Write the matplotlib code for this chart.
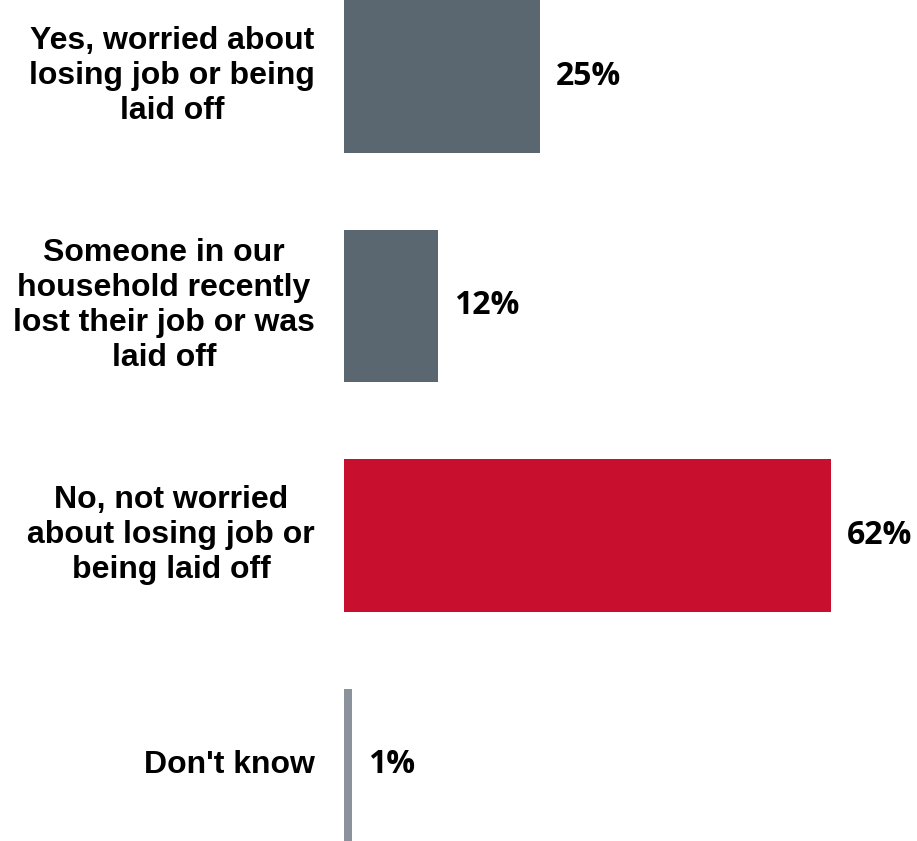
import matplotlib.pyplot as plt
from matplotlib.transforms import offset_copy

categories = [
    "Yes, worried about\nlosing job or being\nlaid off",
    "Someone in our\nhousehold recently\nlost their job or was\nlaid off",
    "No, not worried\nabout losing job or\nbeing laid off",
    "Don't know",
]
values = [25, 12, 62, 1]
colors = ["#5b6770", "#5b6770", "#c8102e", "#8b929b"]

fig = plt.figure(figsize=(9.17, 8.41), dpi=100)
ax = fig.add_axes([344 / 917, 0, 1 - 344 / 917, 1])

pos = list(range(len(values)))
ax.barh(pos, values, height=0.665, color=colors)
ax.set_xlim(0, 573 / 7.85)
ax.set_ylim(3.332, -0.333)
ax.axis("off")

# value labels just right of each bar
val_trans = offset_copy(ax.transData, fig=fig, x=16, y=0, units="dots")
for p, v in zip(pos, values):
    ax.text(v, p, f"{v}%", transform=val_trans, ha="left", va="center",
            fontsize=23, fontweight="bold", family=["Open Sans", "DejaVu Sans"])

# category labels on the left
cat_trans = offset_copy(ax.get_yaxis_transform(), fig=fig, x=-29, y=0, units="dots")
for p, c in zip(pos, categories):
    ax.text(0, p, c, transform=cat_trans, ha="right", va="center",
            multialignment="center", linespacing=1.22,
            fontsize=23, fontweight="bold", family=["Liberation Sans", "DejaVu Sans"])

fig.savefig("out.png", dpi=100)
